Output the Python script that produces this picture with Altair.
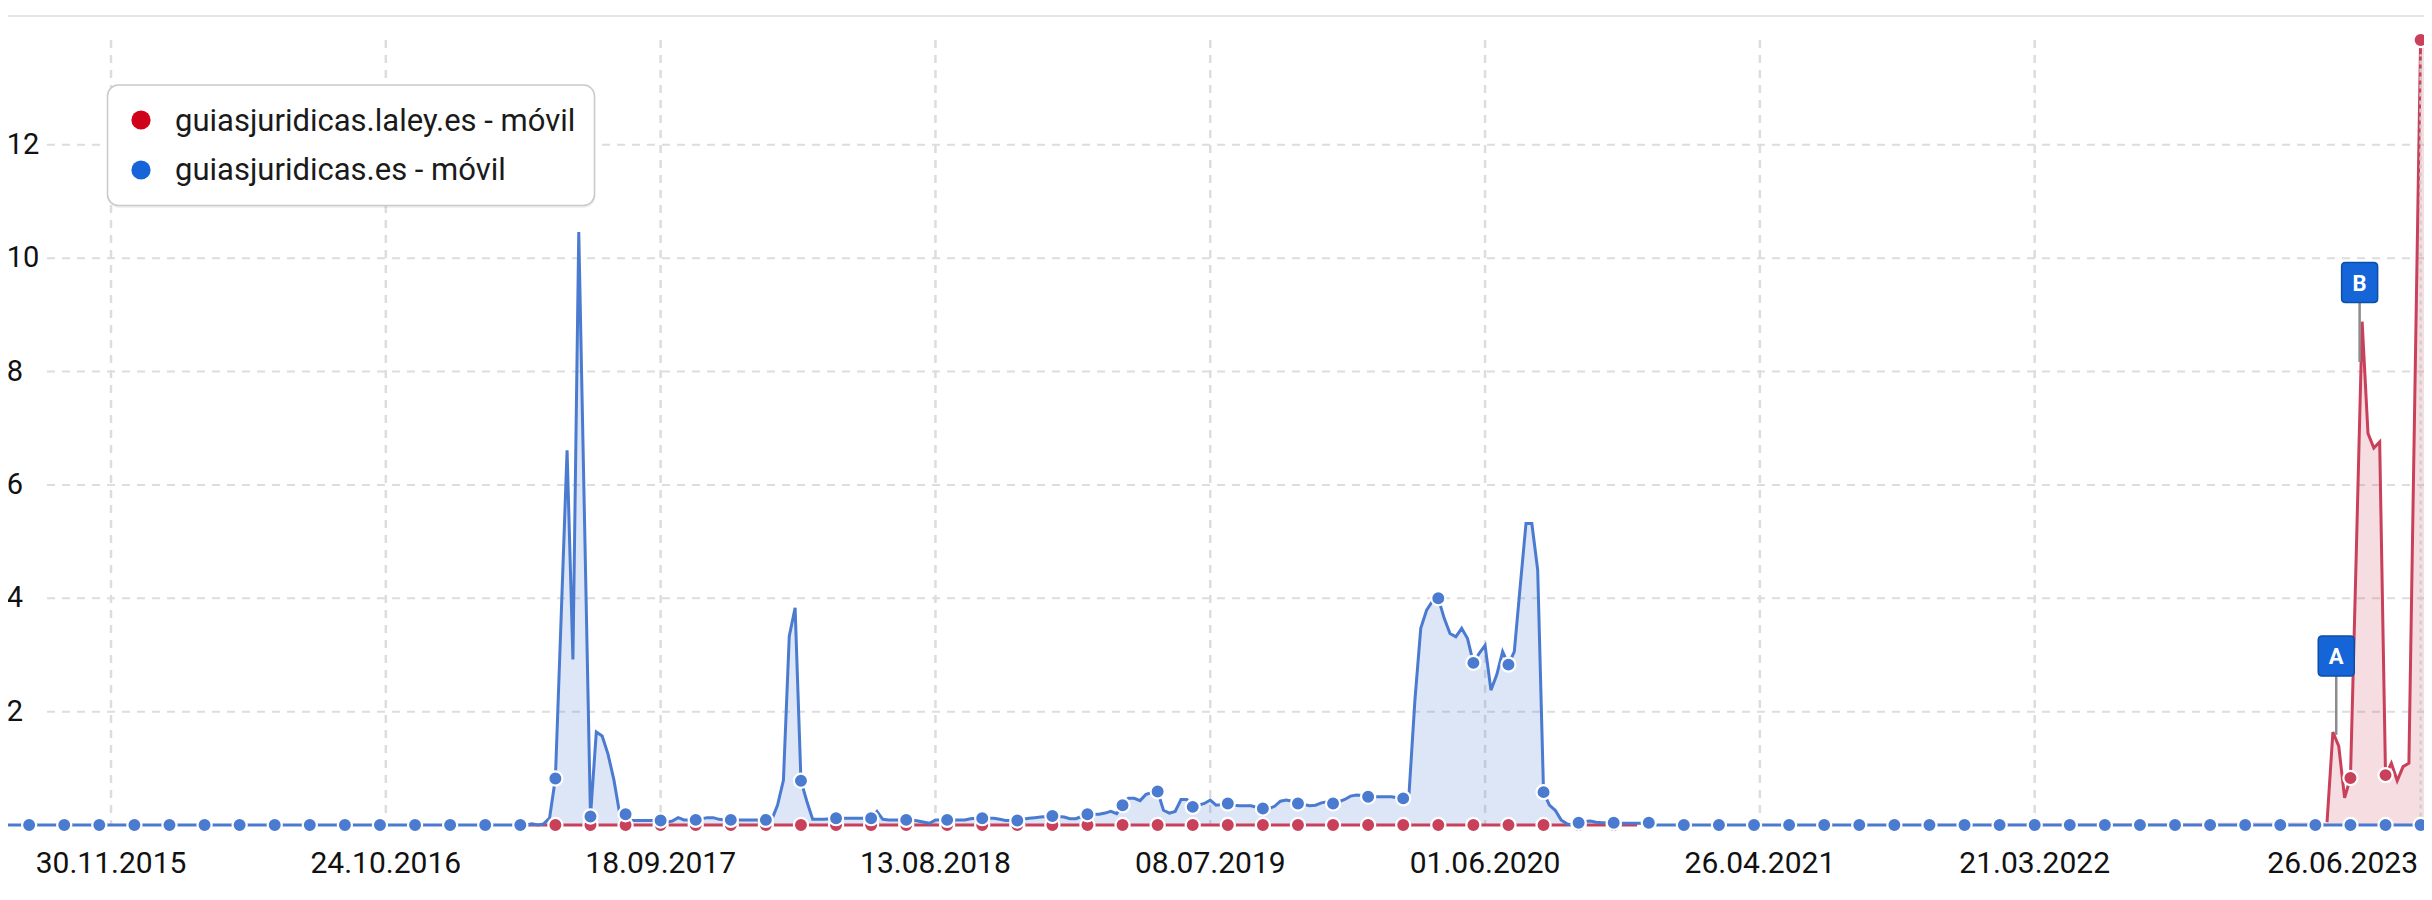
import altair as alt
import pandas as pd

# ------------------------------------------------------------------ data
first_week = "2015-07-20"
last_week = "2023-07-03"
missing_weeks = ["2018-07-30"]

series_names = ["guiasjuridicas.laley.es - móvil", "guiasjuridicas.es - móvil"]

# guiasjuridicas.es - móvil (weekly)
blue_values = [
    0, 0, 0, 0, 0, 0, 0, 0, 0, 0, 0, 0, 0, 0, 0, 0, 0, 0, 0, 0,
    0, 0, 0, 0, 0, 0, 0, 0, 0, 0, 0, 0, 0, 0, 0, 0, 0, 0, 0, 0,
    0, 0, 0, 0, 0, 0, 0, 0, 0, 0, 0, 0, 0, 0, 0, 0, 0, 0, 0, 0,
    0, 0, 0, 0, 0, 0, 0, 0, 0, 0, 0, 0, 0, 0, 0, 0, 0, 0, 0, 0,
    0, 0, 0, 0, 0, 0, 0, 0, 0, 0, 0, 0.02, 0.0, 0.02, 0.12,
    0.82, 3.7, 6.61, 2.92, 10.46, 5.3, 0.15, 1.64, 1.57, 1.25, 0.8, 0.2, 0.19,
    0.08, 0.08, 0.08, 0.08, 0.08, 0.08, 0.05, 0.07, 0.13, 0.09, 0.09, 0.09,
    0.11, 0.13, 0.13, 0.1, 0.09, 0.09, 0.09, 0.09, 0.09, 0.09, 0.09, 0.09,
    0.09, 0.35, 0.79, 3.33, 3.83, 0.78, 0.42, 0.1, 0.1, 0.1, 0.11, 0.12,
    0.12, 0.12, 0.12, 0.12, 0.12, 0.12, 0.24, 0.1, 0.09, 0.09, 0.09, 0.09, 0.09, 0.07,
    0.03, 0.09, 0.09, 0.09, 0.09, 0.09, 0.09, 0.11, 0.12, 0.12, 0.12, 0.12, 0.1, 0.08,
    0.08, 0.08, 0.1, 0.12, 0.13, 0.14, 0.15,
    0.16, 0.15, 0.14, 0.11, 0.11, 0.15, 0.19, 0.19, 0.19, 0.21, 0.24, 0.2, 0.35, 0.47,
    0.47, 0.43, 0.54, 0.57, 0.59, 0.26,
    0.21, 0.24, 0.45, 0.45, 0.32, 0.35, 0.38, 0.44, 0.35, 0.36, 0.38, 0.35, 0.34, 0.34,
    0.34, 0.31, 0.29, 0.29, 0.33, 0.42,
    0.44, 0.42, 0.38, 0.36, 0.34, 0.35, 0.39, 0.41, 0.38, 0.41, 0.45, 0.51, 0.53, 0.52,
    0.5, 0.5, 0.5, 0.5, 0.5, 0.48, 0.47,
    0.56, 2.2, 3.47, 3.79, 3.95, 4.0, 3.65, 3.38, 3.32, 3.47, 3.29, 2.86, 3.03, 3.17,
    2.38, 2.65, 3.06, 2.83, 3.06, 4.2, 5.32, 5.32, 4.5,
    0.58, 0.35, 0.26, 0.09, 0.02, 0.0, 0.04, 0.06, 0.07, 0.05, 0.04, 0.04, 0.04, 0.03,
    0.03, 0.03, 0.03, 0.03, 0.04,
    0, 0, 0, 0, 0, 0, 0, 0, 0, 0, 0, 0, 0, 0, 0, 0, 0, 0, 0, 0,
    0, 0, 0, 0, 0, 0, 0, 0, 0, 0, 0, 0, 0, 0, 0, 0, 0, 0, 0, 0,
    0, 0, 0, 0, 0, 0, 0, 0, 0, 0, 0, 0, 0, 0, 0, 0, 0, 0, 0, 0,
    0, 0, 0, 0, 0, 0, 0, 0, 0, 0, 0, 0, 0, 0, 0, 0, 0, 0, 0, 0,
    0, 0, 0, 0, 0, 0, 0, 0, 0, 0, 0, 0, 0, 0, 0, 0, 0, 0, 0, 0,
    0, 0, 0, 0, 0, 0, 0, 0, 0, 0, 0, 0, 0, 0, 0, 0, 0, 0, 0, 0,
    0, 0, 0, 0, 0, 0, 0, 0, 0, 0, 0, 0, 0,
]

# guiasjuridicas.laley.es - móvil (weekly, None = no data)
red_values = [
    None, None, None, None, None, None, None, None, None, None,
    None, None, None, None, None, None, None, None, None, None,
    None, None, None, None, None, None, None, None, None, None,
    None, None, None, None, None, None, None, None, None, None,
    None, None, None, None, None, None, None, None, None, None,
    None, None, None, None, None, None, None, None, None, None,
    None, None, None, None, None, None, None, None, None, None,
    None, None, None, None, None, None, None, None, None, None,
    None, None, None, None, None, None, None, None, None, None,
    0, 0, 0, 0, 0, 0, 0, 0, 0, 0, 0, 0, 0, 0, 0, 0, 0, 0, 0, 0,
    0, 0, 0, 0, 0, 0, 0, 0, 0, 0, 0, 0, 0, 0, 0, 0, 0, 0, 0, 0,
    0, 0, 0, 0, 0, 0, 0, 0, 0, 0, 0, 0, 0, 0, 0, 0, 0, 0, 0, 0,
    0, 0, 0, 0, 0, 0, 0, 0, 0, 0, 0, 0, 0, 0, 0, 0, 0, 0, 0, 0,
    0, 0, 0, 0, 0, 0, 0, 0, 0, 0, 0, 0, 0, 0, 0, 0, 0, 0, 0, 0,
    0, 0, 0, 0, 0, 0, 0, 0, 0, 0, 0, 0, 0, 0, 0, 0, 0, 0, 0, 0,
    0, 0, 0, 0, 0, 0, 0, 0, 0, 0, 0, 0, 0, 0, 0, 0, 0, 0, 0, 0,
    0, 0, 0, 0, 0, 0, 0, 0, 0, 0, 0, 0, 0, 0, 0, 0, 0, 0, 0, 0,
    0, 0, 0, 0, 0, 0, 0, 0, 0, 0, 0, 0, 0, 0, 0, 0, 0, 0, 0, 0,
    0, 0, 0, 0, 0, 0, 0, 0, 0, 0,
    None, None, None, None, None, None, None, None, None, None,
    None, None, None, None, None, None, None, None, None, None,
    None, None, None, None, None, None, None, None, None, None,
    None, None, None, None, None, None, None, None, None, None,
    None, None, None, None, None, None, None, None, None, None,
    None, None, None, None, None, None, None, None, None, None,
    None, None, None, None, None, None, None, None, None, None,
    None, None, None, None, None, None, None, None, None, None,
    None, None, None, None, None, None, None, None, None, None,
    None, None, None, None, None, None, None, None, None, None,
    None, None, None, None, None, None, None, None, None, None,
    None, None, None, None, None, None, None,
    0.05, 1.64, 1.39, 0.48, 0.83, 4.8, 8.88, 6.91, 6.65, 6.76, 0.88, 1.09, 0.78,
    1.03, 1.09, 7.5, 13.85, 13.85,
]

x_tick_dates = ["2015-11-30", "2016-10-24", "2017-09-18", "2018-08-13",
                "2019-07-08", "2020-06-01", "2021-04-26", "2022-03-21"]
last_date = "2023-06-26"
y_ticks = [2, 4, 6, 8, 10, 12]

annotation_letters = ["A", "B"]
annotation_dates = ["2023-03-17", "2023-04-14"]
annotation_box_levels = [2.98, 9.57]
annotation_pole_bottom = [1.59, 8.17]
annotation_pole_top = [2.63, 9.22]

# ------------------------------------------------------------------ helpers
def ms(s):
    return int(pd.Timestamp(s).tz_localize("UTC").value // 10**6)

weeks = [d.strftime("%Y-%m-%d") for d in pd.date_range(first_week, last_week, freq="7D")]
weeks = [w for w in weeks if w not in missing_weeks]
assert len(weeks) == len(blue_values) == len(red_values), (len(weeks), len(blue_values), len(red_values))

last_idx = weeks.index(last_date)
marker = [((last_idx - i) % 6 == 0) for i in range(len(weeks))]

blue_df = pd.DataFrame({"t": [ms(w) for w in weeks], "v": blue_values, "m": marker})

red_rows = []
seg = 0
prev_none = True
for w, v, m in zip(weeks, red_values, marker):
    if v is None:
        prev_none = True
        continue
    if prev_none:
        seg += 1
        prev_none = False
    red_rows.append({"t": ms(w), "v": v, "m": m, "seg": seg})
red_df = pd.DataFrame(red_rows)

# ------------------------------------------------------------------ layout
W, H = 2416, 785
ref_day = ms("2015-11-30")
px_per_day = 0.8353
day_ms = 86400000
x0 = ref_day - (103 / px_per_day) * day_ms
x1 = ref_day + ((W - 103) / px_per_day) * day_ms

BLUE = "#4a7bd0"
RED = "#c9405a"
LEG_RED = "#d0021b"
LEG_BLUE = "#1565d8"
GRID = "#dddddd"
FONT = "Roboto"

xs = alt.Scale(type="utc", domain=[x0, x1], nice=False)
ys = alt.Scale(domain=[0, 13.85], nice=False, zero=False)
X = alt.X("t:T", scale=xs, axis=None)
Y = alt.Y("v:Q", scale=ys, axis=None)

one = pd.DataFrame({"a": [0]})

hgrid = alt.Chart(pd.DataFrame({"v": y_ticks})).mark_rule(
    color=GRID, strokeWidth=2, strokeDash=[8, 7]
).encode(y=Y, x=alt.value(39), x2=alt.value(W))

vgrid = alt.Chart(pd.DataFrame({"t": [ms(d) for d in x_tick_dates]})).mark_rule(
    color=GRID, strokeWidth=2.5, strokeDash=[8, 7]
).encode(x=X, y=alt.value(0), y2=alt.value(H))

topline = alt.Chart(one).mark_rule(color="#e6e6e6", strokeWidth=2).encode(
    x=alt.value(-8), x2=alt.value(W), y=alt.value(-24)
)

red_area = alt.Chart(red_df).mark_area(color=RED, opacity=0.18).encode(
    x=X, y=Y, detail="seg:N")
blue_area = alt.Chart(blue_df).mark_area(color=BLUE, opacity=0.19).encode(x=X, y=Y)
red_line = alt.Chart(red_df).mark_line(color=RED, strokeWidth=3).encode(
    x=X, y=Y, detail="seg:N")
blue_line = alt.Chart(blue_df).mark_line(color=BLUE, strokeWidth=3).encode(x=X, y=Y)

crosshair = alt.Chart(pd.DataFrame({"t": [ms(last_date)], "v": [0.15], "v2": [13.6]})).mark_rule(
    color="#cfcfcf", strokeWidth=2.5, strokeDash=[4, 4]
).encode(x=X, y=Y, y2="v2:Q")

red_pts = alt.Chart(red_df[red_df["m"]]).mark_circle(
    size=200, fill=RED, stroke="white", strokeWidth=2.2, opacity=1
).encode(x=X, y=Y)
blue_pts = alt.Chart(blue_df[blue_df["m"]]).mark_circle(
    size=200, fill=BLUE, stroke="white", strokeWidth=2.2, opacity=1
).encode(x=X, y=Y)

ann_df = pd.DataFrame({
    "t": [ms(d) for d in annotation_dates],
    "letter": annotation_letters,
    "box": annotation_box_levels,
    "pb": annotation_pole_bottom,
    "pt": annotation_pole_top,
})
BOX_PATH = ("M -0.7 -1 L 0.7 -1 Q 0.9 -1 0.9 -0.8 L 0.9 0.8 Q 0.9 1 0.7 1 "
            "L -0.7 1 Q -0.9 1 -0.9 0.8 L -0.9 -0.8 Q -0.9 -1 -0.7 -1 Z")
poles = alt.Chart(ann_df).mark_rule(color="#8c8c8c", strokeWidth=2.5).encode(
    x=X, y=alt.Y("pb:Q", scale=ys, axis=None), y2="pt:Q")
boxes = alt.Chart(ann_df).mark_point(
    shape=BOX_PATH, size=1600, filled=True, fill=LEG_BLUE, stroke="#0d4ea6",
    strokeWidth=1.5, opacity=1
).encode(x=X, y=alt.Y("box:Q", scale=ys, axis=None))
letters = alt.Chart(ann_df).mark_text(
    color="white", font=FONT, fontWeight="bold", fontSize=22, baseline="middle", align="center", dy=1
).encode(x=X, y=alt.Y("box:Q", scale=ys, axis=None), text="letter:N")

xlab_df = pd.DataFrame({
    "t": [ms(d) for d in x_tick_dates],
    "label": [pd.Timestamp(d).strftime("%d.%m.%Y") for d in x_tick_dates],
})
xlabels = alt.Chart(xlab_df).mark_text(
    font=FONT, fontSize=30, color="#111111", baseline="alphabetic", align="center"
).encode(x=X, y=alt.value(H + 48), text="label:N")

last_df = pd.DataFrame({"t": [ms(last_date)], "label": [pd.Timestamp(last_date).strftime("%d.%m.%Y")]})
lastlabel = alt.Chart(last_df).mark_text(
    font=FONT, fontSize=30, color="#111111", baseline="alphabetic", align="right", dx=-2.6
).encode(x=X, y=alt.value(H + 48), text="label:N")

ylab_df = pd.DataFrame({"v": y_ticks, "label": [str(v) for v in y_ticks]})
ylabels = alt.Chart(ylab_df).mark_text(
    font=FONT, fontSize=29, color="#111111", baseline="alphabetic", align="left", dy=9
).encode(y=Y, x=alt.value(-1.3), text="label:N")

# legend
leg_shadow = alt.Chart(one).mark_rect(fill="#000000", opacity=0.06, cornerRadius=12).encode(
    x=alt.value(99.5), x2=alt.value(587.5), y=alt.value(46.5), y2=alt.value(168))
leg_box = alt.Chart(one).mark_rect(
    fill="white", stroke="#c9c9c9", strokeWidth=1.5, cornerRadius=11
).encode(x=alt.value(99.5), x2=alt.value(586.5), y=alt.value(45), y2=alt.value(165.5))
leg_c1 = alt.Chart(one).mark_circle(size=370, fill=LEG_RED, opacity=1).encode(
    x=alt.value(133), y=alt.value(80))
leg_c2 = alt.Chart(one).mark_circle(size=370, fill=LEG_BLUE, opacity=1).encode(
    x=alt.value(133), y=alt.value(130))
leg_t1 = alt.Chart(pd.DataFrame({"label": [series_names[0]]})).mark_text(
    font=FONT, fontSize=31, color="#1a1a1a", baseline="alphabetic", align="left"
).encode(x=alt.value(167), y=alt.value(90.7), text="label:N")
leg_t2 = alt.Chart(pd.DataFrame({"label": [series_names[1]]})).mark_text(
    font=FONT, fontSize=31, color="#1a1a1a", baseline="alphabetic", align="left"
).encode(x=alt.value(167), y=alt.value(140), text="label:N")

chart = alt.layer(
    hgrid, vgrid, topline,
    red_area, blue_area, red_line, blue_line,
    crosshair, red_pts, blue_pts,
    poles, boxes, letters,
    xlabels, lastlabel, ylabels,
    leg_shadow, leg_box, leg_c1, leg_c2, leg_t1, leg_t2,
).properties(
    width=W, height=H,
    padding={"left": 0, "right": 0, "top": 32, "bottom": 60},
    autosize=alt.AutoSizeParams(type="none"),
).configure_view(stroke="transparent")

chart.save("out.html", embed_options={"renderer": "svg", "actions": False})
